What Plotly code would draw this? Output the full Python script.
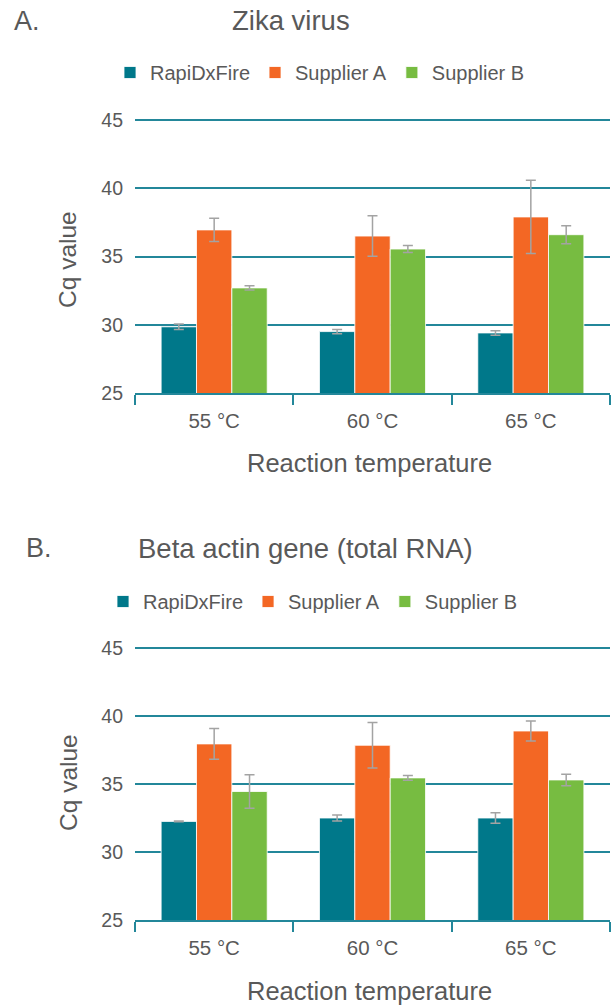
import plotly.graph_objects as go

categories = ["55 °C", "60 °C", "65 °C"]
series_names = ["RapiDxFire", "Supplier A", "Supplier B"]

# Panel A: Zika virus
zika_rapidx = [29.85, 29.5, 29.4]
zika_rapidx_err = [0.2, 0.15, 0.17]
zika_supA = [36.95, 36.5, 37.9]
zika_supA_err = [0.85, 1.48, 2.68]
zika_supB = [32.7, 35.55, 36.6]
zika_supB_err = [0.15, 0.26, 0.66]

# Panel B: Beta actin gene (total RNA)
actin_rapidx = [32.25, 32.5, 32.5]
actin_rapidx_err = [0.03, 0.22, 0.39]
actin_supA = [37.95, 37.85, 38.9]
actin_supA_err = [1.13, 1.68, 0.74]
actin_supB = [34.45, 35.45, 35.3]
actin_supB_err = [1.24, 0.18, 0.42]

y_range = [25, 45.15]
y_ticks = [25, 30, 35, 40, 45]

colors = ["#00788A", "#F36724", "#77BC41"]
TEAL = "#23879A"
TXT = "#595959"
FONT = "Liberation Sans, Arial, sans-serif"
W, H = 616, 1005

fig = go.Figure()

panels = [
    ("x", "y", "legend", [zika_rapidx, zika_supA, zika_supB],
     [zika_rapidx_err, zika_supA_err, zika_supB_err]),
    ("x2", "y2", "legend2", [actin_rapidx, actin_supA, actin_supB],
     [actin_rapidx_err, actin_supA_err, actin_supB_err]),
]
for xa, ya, lg, vals, errs in panels:
    for name, v, e, c in zip(series_names, vals, errs, colors):
        fig.add_trace(go.Bar(
            x=categories, y=v, name=name, xaxis=xa, yaxis=ya, legend=lg,
            marker=dict(color=c, line=dict(color="rgba(255,255,255,0.8)", width=1)),
            error_y=dict(type="data", array=e, visible=True, color="#A3A3A3",
                         thickness=1.5, width=5),
        ))

def px_y(p):
    return 1 - p / H

x_dom = [135 / W, 610 / W]
yax = dict(range=y_range, tickvals=y_ticks, showgrid=True, gridcolor=TEAL, gridwidth=1.5,
           zeroline=False, showline=False, ticks="",
           tickfont=dict(size=19.5, color=TXT, family=FONT), ticklabelstandoff=11)
xax = dict(showline=True, linecolor=TEAL, linewidth=1.5, ticks="outside",
           tickson="boundaries", ticklen=10, tickcolor=TEAL, tickwidth=1.5,
           showgrid=False, tickfont=dict(size=20.5, color=TXT, family=FONT),
           ticklabelstandoff=9)

fig.update_layout(
    width=W, height=H, margin=dict(l=0, r=0, t=0, b=0, autoexpand=False),
    paper_bgcolor="white", plot_bgcolor="white",
    font=dict(family=FONT, color=TXT),
    barmode="group", bargap=0.33, bargroupgap=0,
    xaxis=dict(domain=x_dom, anchor="y", **xax),
    yaxis=dict(domain=[px_y(393), px_y(118)], anchor="x", **yax),
    xaxis2=dict(domain=x_dom, anchor="y2", **xax),
    yaxis2=dict(domain=[px_y(920), px_y(646)], anchor="x2", **yax),
    legend=dict(orientation="h", xref="container", yref="container",
                x=110 / W, y=px_y(53), xanchor="left", yanchor="top",
                font=dict(size=20, color=TXT, family=FONT), traceorder="normal"),
    legend2=dict(orientation="h", xref="container", yref="container",
                 x=103 / W, y=px_y(582), xanchor="left", yanchor="top",
                 font=dict(size=20, color=TXT, family=FONT), traceorder="normal"),
)

ann = [
    dict(text="A.", x=12 / W, y=px_y(21), xanchor="left", size=27),
    dict(text="Zika virus", x=291 / W, y=px_y(21), xanchor="center", size=27.5),
    dict(text="B.", x=24 / W, y=px_y(548), xanchor="left", size=27),
    dict(text="Beta actin gene (total RNA)", x=305 / W, y=px_y(548), xanchor="center", size=27.5),
    dict(text="Reaction temperature", x=369 / W, y=px_y(463), xanchor="center", size=25.5),
    dict(text="Reaction temperature", x=369 / W, y=px_y(991), xanchor="center", size=25.5),
]
for a in ann:
    fig.add_annotation(text=a["text"], x=a["x"], y=a["y"], xref="paper", yref="paper",
                       xanchor=a["xanchor"], yanchor="middle", showarrow=False,
                       font=dict(size=a["size"], color=TXT, family=FONT))
for yc in (260, 783):
    fig.add_annotation(text="Cq value", x=68 / W, y=px_y(yc), xref="paper", yref="paper",
                       xanchor="center", yanchor="middle", showarrow=False, textangle=-90,
                       font=dict(size=24.5, color=TXT, family=FONT))

fig.write_html("out.html")
